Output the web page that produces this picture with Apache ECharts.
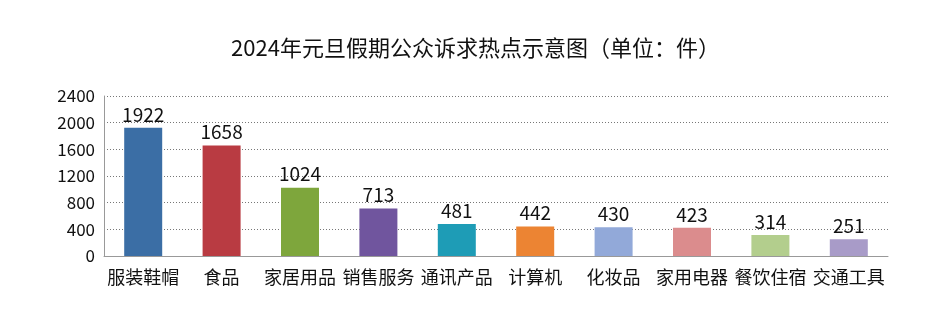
<!DOCTYPE html>
<html><head><meta charset="utf-8">
<script src="https://cdn.jsdelivr.net/npm/echarts@6/dist/echarts.min.js"></script>
<style>html,body{margin:0;padding:0;background:#fff}#c{width:951px;height:325px}</style>
</head><body><div id="c"></div>
<script>
const titleText = '2024年元旦假期公众诉求热点示意图（单位：件）';
const categories = ['服装鞋帽','食品','家居用品','销售服务','通讯产品','计算机','化妆品','家用电器','餐饮住宿','交通工具'];
const values = [1922,1658,1024,713,481,442,430,423,314,251];
const barColors = ['#3B6EA5','#B93B42','#7EA63C','#70559E','#1E9CB6','#EC8433','#92A9D9','#DB8C8D','#B3CE8D','#A89BC8'];
const yTicks = [0,400,800,1200,1600,2000,2400];
const font = '"Noto Sans CJK SC","Noto Sans",sans-serif';
const chart = echarts.init(document.getElementById('c'));
chart.setOption({
  animation:false,
  title:{text:titleText,left:'center',top:32,textStyle:{fontFamily:font,fontSize:22,fontWeight:'normal',color:'#111'}},
  grid:{left:104,right:63,top:96,bottom:69,containLabel:false},
  xAxis:{type:'category',data:categories,
    axisLine:{lineStyle:{color:'#999',width:1}},axisTick:{show:false},
    axisLabel:{fontFamily:font,fontSize:18,color:'#111',margin:12,interval:0}},
  yAxis:{type:'value',min:yTicks[0],max:yTicks[yTicks.length-1],interval:400,
    axisLine:{show:true,lineStyle:{color:'#999'}},axisTick:{show:false},
    axisLabel:{fontFamily:font,fontSize:17,color:'#111',margin:9,formatter:v=>String(v)},
    splitLine:{lineStyle:{color:'#777',type:[1,2],width:1}}},
  series:[{type:'bar',barWidth:38,
    data:values.map((v,i)=>({value:v,itemStyle:{color:barColors[i]}})),
    label:{show:true,position:'top',distance:4,fontFamily:font,fontSize:19,color:'#111'}}]
});
</script></body></html>
